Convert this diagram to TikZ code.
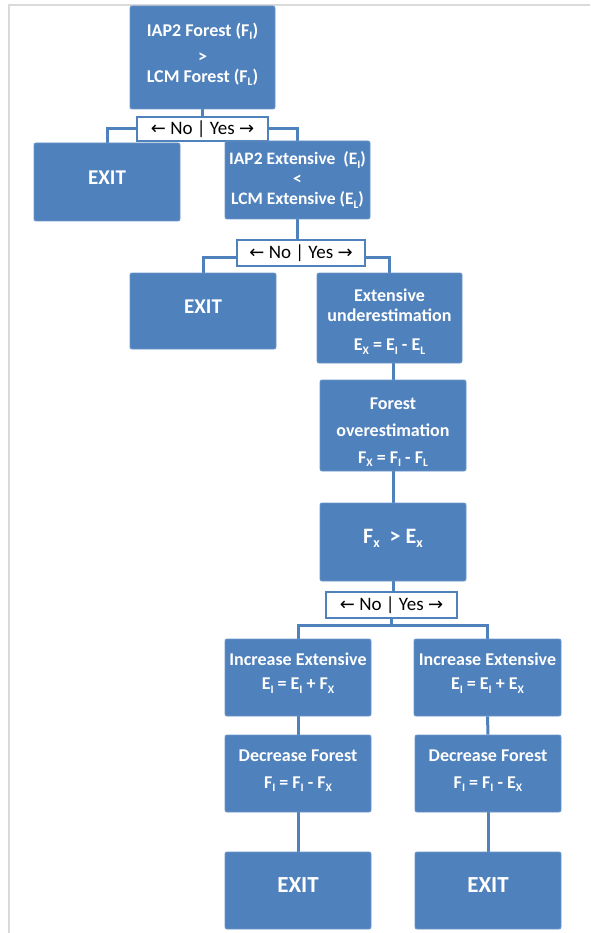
\documentclass[tikz,border=0pt]{standalone}
\usepackage{fontspec}
\setmainfont{Carlito}
\newfontfamily\arrowfont{DejaVu Sans}
\usetikzlibrary{backgrounds}
\definecolor{boxblue}{HTML}{4F81BD}
\definecolor{boxedge}{HTML}{6C95C9}
\definecolor{framegray}{HTML}{DADADA}
% lowered small subscript
\newcommand\sbx[1]{\raisebox{-0.4ex}{\fontsize{11.5}{11.5}\selectfont #1}}
% invisible struts that move a text block up (\lift) or down (\drop)
\newcommand\lift[1]{\rule[-#1]{0pt}{0pt}}
\newcommand\drop[1]{\rule{0pt}{#1}}
% the No | Yes branch label
\newcommand\noyes{{\arrowfont\fontsize{18}{18}\selectfont ←} No | Yes {\arrowfont\fontsize{18}{18}\selectfont →}}
\tikzset{
  box/.style={draw=boxedge, fill=boxblue, rounded corners=2pt, line width=0.8pt,
    text=white, align=center, inner sep=0pt,
    font=\bfseries\fontsize{18}{20}\selectfont},
  exitbox/.style={box, text depth=9pt, font=\bfseries\fontsize{21}{24}\selectfont},
  bigexit/.style={box, text depth=10pt, font=\bfseries\fontsize{23}{26}\selectfont},
  choice/.style={draw=boxblue, line width=2pt, fill=white, text=black,
    inner sep=0pt, font=\fontsize{19}{20}\selectfont},
  link/.style={draw=boxblue, line width=3pt},
}
\begin{document}
\begin{tikzpicture}[x=1pt, y=-1pt]
\useasboundingbox (0,0) rectangle (590,933);
\draw[framegray, line width=1.5pt] (590,5) -- (9,5) -- (9,933);

% first test
\node[box, minimum width=145pt, minimum height=103pt] (fi) at (202.5,57.5)
  {IAP2 Forest (F\sbx{I})\\[6pt] >\\ LCM Forest (F\sbx{L})\lift{10pt}};
\node[choice, minimum width=131pt, minimum height=24pt] (d1) at (202.5,129) {\noyes};
\node[exitbox, minimum width=146pt, minimum height=78pt] (exit1) at (107,182) {EXIT};
\node[box, minimum width=145pt, minimum height=78pt,
  font=\bfseries\fontsize{17.5}{20}\selectfont] (ext) at (297.5,180)
  {IAP2 Extensive~ (E\sbx{I})\\ <\\ LCM Extensive (E\sbx{L})};

% second test
\node[choice, minimum width=128pt, minimum height=26pt] (d2) at (301,253) {\noyes};
\node[exitbox, minimum width=146pt, minimum height=76pt] (exit2) at (203,311) {EXIT};
\node[box, minimum width=145pt, minimum height=90pt] (under) at (389.5,318)
  {\drop{20pt}Extensive\\ underestimation\\[9pt] E\sbx{X} = E\sbx{I} - E\sbx{L}};
\node[box, minimum width=146pt, minimum height=91pt] (fover) at (393,425.5)
  {\drop{25pt}Forest\\[7pt] overestimation\\[7pt] F\sbx{X} = F\sbx{I} - F\sbx{L}};
\node[box, minimum width=146pt, minimum height=78pt,
  font=\bfseries\fontsize{22}{24}\selectfont] (fx) at (393,542)
  {F\raisebox{-0.4ex}{\fontsize{14}{14}\selectfont x}~ > E\raisebox{-0.4ex}{\fontsize{14}{14}\selectfont x}\lift{11pt}};

% third test
\node[choice, minimum width=131pt, minimum height=26pt] (d3) at (391.5,605) {\noyes};
\coordinate (j3) at (392,625);
\node[box, minimum width=146pt, minimum height=77pt] (inc1) at (298,677.5)
  {Increase Extensive\\[4pt] E\sbx{I} = E\sbx{I} + F\sbx{X}\lift{12pt}};
\node[box, minimum width=147pt, minimum height=77pt] (inc2) at (487.5,677.5)
  {Increase Extensive\\[4pt] E\sbx{I} = E\sbx{I} + E\sbx{X}\lift{12pt}};
\node[box, minimum width=146pt, minimum height=77pt] (dec1) at (298,773.5)
  {Decrease Forest\\[7pt] F\sbx{I} = F\sbx{I} - F\sbx{X}\lift{9pt}};
\node[box, minimum width=146pt, minimum height=77pt] (dec2) at (488,773.5)
  {Decrease Forest\\[7pt] F\sbx{I} = F\sbx{I} - E\sbx{X}\lift{9pt}};
\node[bigexit, minimum width=146pt, minimum height=77pt] (exit3) at (298,890.5) {EXIT};
\node[bigexit, minimum width=146pt, minimum height=77pt] (exit4) at (488,890.5) {EXIT};

\begin{scope}[on background layer]
  \draw[link] (fi.south) -- (d1.north);
  \draw[link] (d1.west) -| (exit1.north);
  \draw[link] (d1.east) -| (ext.north);
  \draw[link] (ext.south) -- (ext.south |- d2.north);
  \draw[link] ([yshift=-4pt]d2.west) -| (exit2.north);
  \draw[link] ([yshift=-4pt]d2.east) -| (under.north);
  \draw[link] (fover.north |- under.south) -- (fover.north);
  \draw[link] (fover.south) -- (fx.north);
  \draw[link] (fx.south) -- (fx.south |- d3.north);
  \draw[link] (d3.south) -- (d3.south |- j3);
  \draw[link] (inc1.north) |- (j3) -| (inc2.north);
  \draw[link] (inc1.south) -- (dec1.north);
  \draw[link] (inc2.south) -- (dec2.north);
  \draw[link] (dec1.south) -- (exit3.north);
  \draw[link] (dec2.south) -- (exit4.north);
\end{scope}
\end{tikzpicture}
\end{document}
